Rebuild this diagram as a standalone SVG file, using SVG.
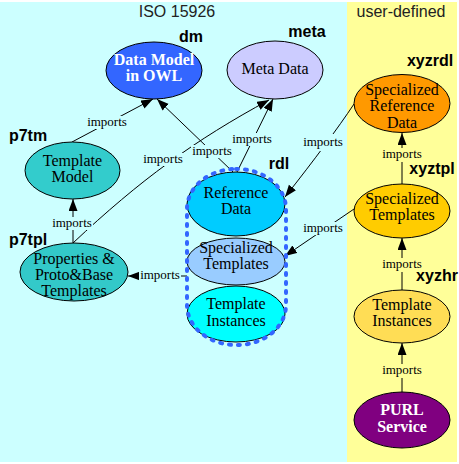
<svg xmlns="http://www.w3.org/2000/svg" width="459" height="464" viewBox="0 0 459 464">
<defs>
<marker id="ah" markerUnits="userSpaceOnUse" markerWidth="13" markerHeight="10" refX="12" refY="4.5" orient="auto">
<path d="M0,0 L12,4.5 L0,9 z" fill="#000"/>
</marker>
<style>
.nd{stroke:#000;stroke-width:1}
.t{font-family:"Liberation Serif","Times New Roman",serif;font-size:16px;text-anchor:middle;fill:#000}
.tw{font-family:"Liberation Serif","Times New Roman",serif;font-size:16px;font-weight:bold;text-anchor:middle;fill:#fff}
.lb{font-family:"Liberation Sans",Arial,sans-serif;font-size:16px;font-weight:bold;text-anchor:middle;fill:#000}
.ttl{font-family:"Liberation Sans",Arial,sans-serif;font-size:16px;text-anchor:middle;fill:#222}
.e{fill:none;stroke:#000;stroke-width:1;marker-end:url(#ah)}
.el{font-family:"Liberation Serif","Times New Roman",serif;font-size:13px;text-anchor:middle;fill:#000}
.bc{fill:#ccffff}
.by{fill:#ffff99}
</style>
</defs>
<rect x="0" y="0" width="459" height="464" fill="#fff"/>
<rect x="0" y="2" width="347" height="460" fill="#ccffff"/>
<rect x="347" y="2" width="110" height="460" fill="#ffff99"/>
<text class="ttl" x="177" y="17">ISO 15926</text>
<text class="ttl" x="401" y="17">user-defined</text>

<g id="connectors">
<path class="e" d="M72,142 L153,99"/>
<path class="e" d="M233,172 L157,99"/>
<path class="e" d="M237,172 L273,99"/>
<path class="e" d="M73,243 C140,180 195,140 269,100"/>
<path class="e" d="M73,243 L73,199"/>
<path class="e" d="M187,276 L128,276"/>
<path class="e" d="M354,104 Q330,140 285,197"/>
<path class="e" d="M354,209 L285,256"/>
<path class="e" d="M402,184 L402,133"/>
<path class="e" d="M402,290 L402,238"/>
<path class="e" d="M402,392 L402,343"/>
<rect class="bc" x="86" y="116" width="42" height="13"/>
<text class="el" x="107" y="126">imports</text>
<rect class="bc" x="191" y="145" width="42" height="13"/>
<text class="el" x="212" y="155">imports</text>
<rect class="bc" x="231" y="133" width="42" height="13"/>
<text class="el" x="252" y="143">imports</text>
<rect class="bc" x="142" y="153" width="42" height="13"/>
<text class="el" x="163" y="163">imports</text>
<rect class="bc" x="51" y="217" width="42" height="13"/>
<text class="el" x="72" y="227">imports</text>
<rect class="bc" x="139" y="269" width="42" height="13"/>
<text class="el" x="160" y="279">imports</text>
<rect class="bc" x="302" y="134" width="42" height="17"/>
<text class="el" x="323" y="146">imports</text>
<rect class="bc" x="302" y="222" width="42" height="13"/>
<text class="el" x="323" y="232">imports</text>
<rect class="by" x="381" y="148" width="42" height="14"/>
<text class="el" x="402" y="158">imports</text>
<rect class="by" x="381" y="258" width="42" height="14"/>
<text class="el" x="402" y="268">imports</text>
<rect class="by" x="381" y="364" width="42" height="14"/>
<text class="el" x="402" y="374">imports</text>
</g>

<g id="dm">
<ellipse class="nd" cx="154" cy="70.5" rx="48" ry="28.5" fill="#3366ff"/>
<text class="tw" x="154" y="65">Data Model</text>
<text class="tw" x="154" y="81">in OWL</text>
<text class="lb" x="191" y="42">dm</text>
</g>
<g id="meta">
<ellipse class="nd" cx="275" cy="70" rx="48" ry="29" fill="#ccccff"/>
<text class="t" x="275" y="74">Meta Data</text>
<text class="lb" x="307" y="37">meta</text>
</g>
<g id="xyzrdl">
<ellipse class="nd" cx="402" cy="103.5" rx="48" ry="29" fill="#ff9900"/>
<text class="t" x="402" y="94.5">Specialized</text>
<text class="t" x="402" y="111">Reference</text>
<text class="t" x="402" y="127.5">Data</text>
<text class="lb" x="430" y="66">xyzrdl</text>
</g>
<g id="p7tm">
<ellipse class="nd" cx="72.5" cy="170.5" rx="47.5" ry="28.5" fill="#33cccc"/>
<text class="t" x="72.5" y="166">Template</text>
<text class="t" x="72.5" y="182">Model</text>
<text class="lb" x="28" y="141">p7tm</text>
</g>
<g id="p7tpl">
<ellipse class="nd" cx="74" cy="272" rx="54" ry="29" fill="#33c9c9"/>
<text class="t" x="74" y="264">Properties &amp;</text>
<text class="t" x="74" y="280">Proto&amp;Base</text>
<text class="t" x="74" y="296">Templates</text>
<text class="lb" x="28" y="245">p7tpl</text>
</g>
<g id="rdl">
<ellipse class="nd" cx="236" cy="204" rx="49" ry="32" fill="#00ccff"/>
<text class="t" x="236" y="198">Reference</text>
<text class="t" x="236" y="214">Data</text>
<ellipse class="nd" cx="236" cy="261.5" rx="49" ry="23.5" fill="#99ccff"/>
<text class="t" x="236" y="253">Specialized</text>
<text class="t" x="236" y="269">Templates</text>
<ellipse class="nd" cx="236" cy="314" rx="49" ry="28" fill="#00ffff"/>
<text class="t" x="236" y="309">Template</text>
<text class="t" x="236" y="326">Instances</text>
<rect x="187" y="169" width="99" height="176" rx="49" ry="40" fill="none" stroke="#3366ff" stroke-width="4" stroke-dasharray="2,7" stroke-linecap="round"/>
<text class="lb" x="279" y="169">rdl</text>
</g>
<g id="xyztpl">
<ellipse class="nd" cx="402" cy="211" rx="48" ry="27" fill="#ffcc00"/>
<text class="t" x="402" y="204">Specialized</text>
<text class="t" x="402" y="220">Templates</text>
<text class="lb" x="432" y="174">xyztpl</text>
</g>
<g id="xyzhr">
<ellipse class="nd" cx="402" cy="316.5" rx="48" ry="26.5" fill="#ffdd55"/>
<text class="t" x="402" y="310">Template</text>
<text class="t" x="402" y="326">Instances</text>
<text class="lb" x="437" y="281">xyzhr</text>
</g>
<g id="purl">
<ellipse class="nd" cx="402" cy="420" rx="48" ry="28" fill="#800080"/>
<text class="tw" x="402" y="415">PURL</text>
<text class="tw" x="402" y="432">Service</text>
</g>
</svg>
